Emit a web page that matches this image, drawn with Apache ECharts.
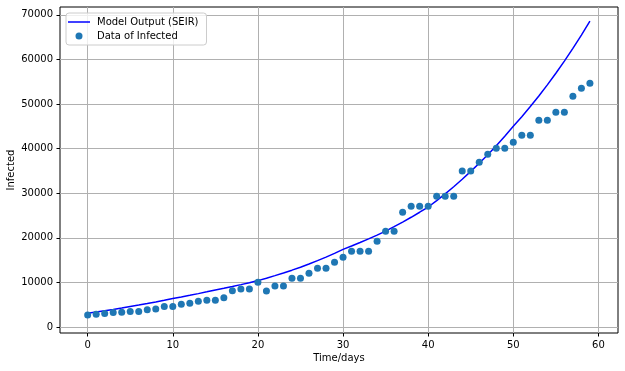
<!DOCTYPE html>
<html>
<head>
<meta charset="utf-8">
<script src="https://cdn.jsdelivr.net/npm/echarts@6/dist/echarts.min.js"></script>
<style>
html,body{margin:0;padding:0;background:#fff;}
#chart{width:625px;height:371px;}
</style>
</head>
<body>
<div id="chart"></div>
<script>
const days = [0,1,2,3,4,5,6,7,8,9,10,11,12,13,14,15,16,17,18,19,20,21,22,23,24,25,26,27,28,29,30,31,32,33,34,35,36,37,38,39,40,41,42,43,44,45,46,47,48,49,50,51,52,53,54,55,56,57,58,59];
const infected = [2690,2840,3000,3220,3290,3480,3480,3890,4040,4600,4600,5090,5310,5760,5980,5980,6580,8150,8520,8520,10020,8050,9200,9200,10920,10920,12040,13160,13160,14510,15630,16970,16970,16970,19220,21460,21460,25730,27080,27080,27080,29320,29320,29320,35000,35000,36950,38740,40090,40090,41440,43010,43010,46370,46370,48170,48170,51760,53550,54670];
const model = [3100,3350,3630,3930,4250,4600,4910,5250,5610,5990,6400,6740,7100,7480,7880,8300,8680,9080,9500,9940,10400,10940,11510,12110,12740,13400,14120,14880,15670,16510,17400,18150,18940,19750,20610,21500,22490,23520,24600,25730,26900,28340,29850,31440,33120,34900,36720,38630,40640,42760,45000,47160,49430,51800,54280,56900,59620,62470,65460,68600];
const xTicks = [0,10,20,30,40,50,60];
const yTicks = [0,10000,20000,30000,40000,50000,60000,70000];

const font = 'DejaVu Sans';
const chart = echarts.init(document.getElementById('chart'), null, {renderer:'canvas'});
chart.setOption({
  animation:false,
  backgroundColor:'#fff',
  textStyle:{fontFamily:font},
  grid:{left:60,top:7,right:7,bottom:38,show:true,borderColor:'#000',borderWidth:1,backgroundColor:'#fff',
        containLabel:false, outerBoundsMode:'none'},
  legend:{
    orient:'vertical', left:66, top:13,
    padding:[4,8,4,2],
    itemWidth:22, itemHeight:7, itemGap:4,
    borderColor:'#cccccc', borderWidth:1, borderRadius:3,
    backgroundColor:'rgba(255,255,255,0.8)',
    textStyle:{fontFamily:font,fontSize:10,color:'#000',padding:[0,0,0,2]},
    data:[{name:'Model Output (SEIR)', icon:'path://M0,0h22v1.5h-22z', itemStyle:{color:'#0000ff'}},
          {name:'Data of Infected',icon:'circle'}]
  },
  xAxis:{
    type:'value', min:-3.25, max:62.3,
    name:'Time/days', nameLocation:'middle', nameGap:20, nameMoveOverlap:false,
    nameTextStyle:{fontFamily:font,fontSize:10,color:'#000'},
    axisLine:{show:false,onZero:false},
    axisTick:{show:true,length:3.5,inside:false,lineStyle:{color:'#000',width:1},customValues:xTicks},
    axisLabel:{fontFamily:font,fontSize:10,color:'#000',margin:7,customValues:xTicks,formatter:v=>String(v)},
    splitLine:{show:true,lineStyle:{color:'#b0b0b0',width:1}}
  },
  yAxis:{
    type:'value', min:-1350, max:71750,
    name:'Infected', nameLocation:'middle', nameGap:44, nameRotate:90, nameMoveOverlap:false,
    nameTextStyle:{fontFamily:font,fontSize:10,color:'#000'},
    axisLine:{show:false,onZero:false},
    axisTick:{show:true,length:3.5,inside:false,lineStyle:{color:'#000',width:1},customValues:yTicks},
    axisLabel:{fontFamily:font,fontSize:10,color:'#000',margin:7,customValues:yTicks,formatter:v=>String(v)},
    splitLine:{show:true,lineStyle:{color:'#b0b0b0',width:1}}
  },
  series:[
    {name:'Model Output (SEIR)', type:'line', data:days.map((d,i)=>[d,model[i]]), symbol:'none', showSymbol:false,
     lineStyle:{color:'#0000ff',width:1.5}, itemStyle:{color:'#0000ff'}, z:2},
    {name:'Data of Infected', type:'scatter', data:days.map((d,i)=>[d,infected[i]]), symbol:'circle', symbolSize:7,
     itemStyle:{color:'#1f77b4',opacity:1}, z:3}
  ]
});
</script>
</body>
</html>
